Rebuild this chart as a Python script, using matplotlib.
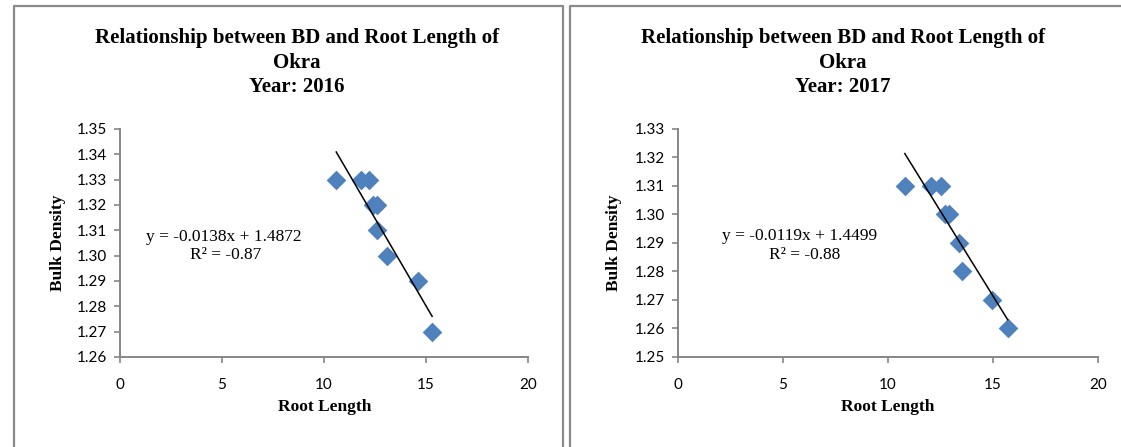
import matplotlib
matplotlib.use("Agg")
import matplotlib.pyplot as plt
from matplotlib.lines import Line2D
from matplotlib.ticker import FormatStrFormatter

# Figure is 1121 x 447 px at dpi 100
W, H = 1121, 447

# ---- data ----
years = ["2016", "2017"]

root_2016 = [10.6, 11.8, 12.2, 12.4, 12.6, 12.6, 13.1, 14.6, 15.3]
bd_2016 = [1.33, 1.33, 1.33, 1.32, 1.32, 1.31, 1.30, 1.29, 1.27]

root_2017 = [10.8, 12.05, 12.5, 12.7, 12.9, 13.4, 13.5, 14.95, 15.7]
bd_2017 = [1.31, 1.31, 1.31, 1.30, 1.30, 1.29, 1.28, 1.27, 1.26]

# trendline coefficients as printed on the charts
slopes = [-0.0138, -0.0119]
intercepts = [1.4872, 1.4499]
r_values = ["-0.87", "-0.88"]

y_ranges = [(1.26, 1.35), (1.25, 1.33)]
x_ticks = [0, 5, 10, 15, 20]

MARKER_COLOR = "#4F81BD"
AXIS_GRAY = "#868686"
SERIF = "Liberation Serif"
SANS = "Lato"


def px(x, y):
    """Pixel position (from top-left) -> figure fraction."""
    return x / W, 1 - y / H


def draw_panel(fig, rect, x, y, slope, intercept, ylim):
    left, bottom = px(rect[0], rect[3])
    right, top = px(rect[2], rect[1])
    ax = fig.add_axes([left, bottom, right - left, top - bottom])

    ax.scatter(x, y, marker="D", s=10 ** 2, color=MARKER_COLOR, zorder=2, linewidths=0)
    xs = [min(x), max(x)]
    ax.plot(xs, [slope * v + intercept for v in xs], color="black", lw=1.1, zorder=3)

    ax.set_xlim(0, 20)
    ax.set_ylim(*ylim)
    ax.set_xticks(x_ticks)
    n = int(round((ylim[1] - ylim[0]) / 0.01))
    ax.set_yticks([ylim[0] + 0.01 * i for i in range(n + 1)])
    ax.yaxis.set_major_formatter(FormatStrFormatter("%.2f"))

    for s in ["top", "right"]:
        ax.spines[s].set_visible(False)
    for s in ["left", "bottom"]:
        ax.spines[s].set_color(AXIS_GRAY)
        ax.spines[s].set_linewidth(1.4)
    ax.tick_params(direction="out", length=4, width=1.2, color=AXIS_GRAY,
                   labelsize=11, pad=5)
    for lab in ax.get_xticklabels() + ax.get_yticklabels():
        lab.set_fontfamily(SANS)
    ax.xaxis.set_tick_params(pad=11)
    ax.patch.set_alpha(0)
    return ax


def main():
    fig = plt.figure(figsize=(W / 100, H / 100), dpi=100)

    panels = [
        dict(rect=(120, 129, 528, 357), x=root_2016, y=bd_2016),
        dict(rect=(678, 129, 1098, 357), x=root_2017, y=bd_2017),
    ]
    title_cx = [297, 843]
    ylabel_x = [58, 614]
    xlabel_cx = [325, 888]
    eq_pos = [(224, 237, 226, 255), (800, 236, 805, 255)]

    for i, p in enumerate(panels):
        draw_panel(fig, p["rect"], p["x"], p["y"], slopes[i], intercepts[i], y_ranges[i])

        fig.text(*px(title_cx[i], 63),
                 "Relationship between BD and Root Length of\nOkra\nYear: " + years[i],
                 ha="center", va="center", fontsize=15, fontweight="bold",
                 family=SERIF, linespacing=1.3)
        fig.text(*px(ylabel_x[i], 243), "Bulk Density", rotation=90,
                 ha="center", va="center", fontsize=12.5, fontweight="bold", family=SERIF)
        fig.text(*px(xlabel_cx[i], 407), "Root Length",
                 ha="center", va="center", fontsize=12.5, fontweight="bold", family=SERIF)

        ex1, ey1, ex2, ey2 = eq_pos[i]
        sign = "+" if intercepts[i] >= 0 else "-"
        fig.text(*px(ex1, ey1), f"y = {slopes[i]:.4f}x {sign} {abs(intercepts[i]):.4f}",
                 ha="center", va="center", fontsize=12.5, family=SERIF)
        fig.text(*px(ex2, ey2), f"R² = {r_values[i]}",
                 ha="center", va="center", fontsize=12.5, family=SERIF)

    # chart-area frames (they run off the bottom / right of the crop)
    frames = [
        [(14, 460), (14, 6), (563, 6), (563, 460)],
        [(570, 460), (570, 6), (1130, 6)],
    ]
    for pts in frames:
        xs = [px(a, b)[0] for a, b in pts]
        ys = [px(a, b)[1] for a, b in pts]
        fig.add_artist(Line2D(xs, ys, transform=fig.transFigure,
                              color="#8a8a8a", lw=1.6))

    fig.savefig("out.png", dpi=100)


if __name__ == "__main__":
    main()
